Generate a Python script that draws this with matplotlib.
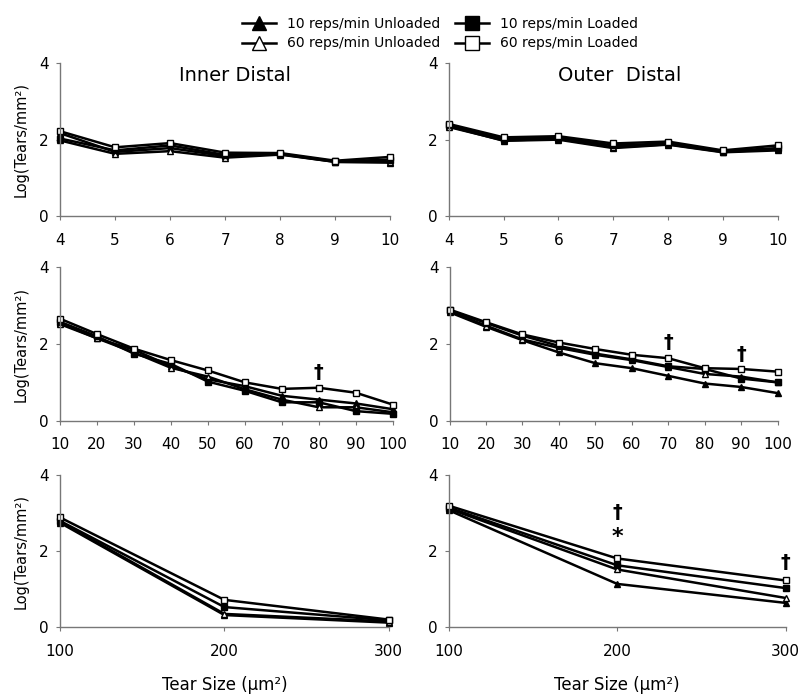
import matplotlib
matplotlib.use('Agg')
from matplotlib import pyplot as plt

plt.rcParams['font.family'] = ['DejaVu Sans']

series = ['10 reps/min Unloaded', '60 reps/min Unloaded', '10 reps/min Loaded', '60 reps/min Loaded']

# x values of the three rows
x_small = [4, 5, 6, 7, 8, 9, 10]
x_mid = [10, 20, 30, 40, 50, 60, 70, 80, 90, 100]
x_big = [100, 200, 300]

# Inner Distal (left column)
inner_small = {
    '10 reps/min Unloaded': [2.17, 1.68, 1.78, 1.57, 1.62, 1.42, 1.40],
    '60 reps/min Unloaded': [1.98, 1.63, 1.70, 1.53, 1.61, 1.42, 1.42],
    '10 reps/min Loaded':   [2.03, 1.72, 1.85, 1.60, 1.63, 1.43, 1.48],
    '60 reps/min Loaded':   [2.22, 1.80, 1.91, 1.66, 1.65, 1.45, 1.55],
}
inner_mid = {
    '10 reps/min Unloaded': [2.55, 2.15, 1.85, 1.42, 1.08, 0.90, 0.65, 0.55, 0.45, 0.30],
    '60 reps/min Unloaded': [2.52, 2.15, 1.78, 1.38, 1.15, 0.82, 0.55, 0.35, 0.35, 0.22],
    '10 reps/min Loaded':   [2.58, 2.20, 1.75, 1.48, 1.02, 0.78, 0.48, 0.48, 0.25, 0.18],
    '60 reps/min Loaded':   [2.66, 2.26, 1.88, 1.58, 1.31, 1.00, 0.83, 0.86, 0.73, 0.42],
}
inner_big = {
    '10 reps/min Unloaded': [2.75, 0.32, 0.12],
    '60 reps/min Unloaded': [2.78, 0.35, 0.15],
    '10 reps/min Loaded':   [2.80, 0.53, 0.18],
    '60 reps/min Loaded':   [2.89, 0.72, 0.20],
}

# Outer Distal (right column)
outer_small = {
    '10 reps/min Unloaded': [2.35, 1.97, 2.00, 1.78, 1.87, 1.67, 1.72],
    '60 reps/min Unloaded': [2.33, 1.98, 2.02, 1.80, 1.88, 1.68, 1.75],
    '10 reps/min Loaded':   [2.37, 2.02, 2.05, 1.85, 1.90, 1.70, 1.78],
    '60 reps/min Loaded':   [2.41, 2.06, 2.09, 1.90, 1.95, 1.72, 1.85],
}
outer_mid = {
    '10 reps/min Unloaded': [2.83, 2.45, 2.10, 1.78, 1.50, 1.37, 1.17, 0.97, 0.88, 0.72],
    '60 reps/min Unloaded': [2.85, 2.48, 2.12, 1.90, 1.72, 1.58, 1.40, 1.22, 1.15, 1.00],
    '10 reps/min Loaded':   [2.88, 2.55, 2.22, 1.95, 1.75, 1.60, 1.42, 1.35, 1.10, 1.00],
    '60 reps/min Loaded':   [2.90, 2.57, 2.25, 2.04, 1.87, 1.72, 1.63, 1.37, 1.35, 1.28],
}
outer_big = {
    '10 reps/min Unloaded': [3.08, 1.14, 0.64],
    '60 reps/min Unloaded': [3.12, 1.52, 0.77],
    '10 reps/min Loaded':   [3.15, 1.63, 1.03],
    '60 reps/min Loaded':   [3.20, 1.81, 1.23],
}

styles = {
    '10 reps/min Unloaded': dict(marker='^', mfc='black'),
    '60 reps/min Unloaded': dict(marker='^', mfc='white'),
    '10 reps/min Loaded':   dict(marker='s', mfc='black'),
    '60 reps/min Loaded':   dict(marker='s', mfc='white'),
}

fig = plt.figure(figsize=(8, 7), dpi=100)

# axes rects [left, bottom, width, height]
rects = [
    [0.075, 0.691, 0.413, 0.219], [0.561, 0.691, 0.411, 0.219],
    [0.075, 0.399, 0.416, 0.219], [0.562, 0.399, 0.410, 0.219],
    [0.075, 0.104, 0.411, 0.217], [0.561, 0.104, 0.421, 0.217],
]
panels = [
    (x_small, inner_small), (x_small, outer_small),
    (x_mid, inner_mid), (x_mid, outer_mid),
    (x_big, inner_big), (x_big, outer_big),
]

axes = []
for i, (r, (xs, data)) in enumerate(zip(rects, panels)):
    ax = fig.add_axes(r)
    for name in series:
        st = styles[name]
        ax.plot(xs, data[name], color='black', lw=1.8, marker=st['marker'],
                mfc=st['mfc'], mec='black', ms=5, mew=1.0, label=name, clip_on=False)
    ax.set_xlim(xs[0], xs[-1])
    ax.set_xticks(xs)
    ax.set_ylim(0, 4)
    ax.set_yticks([0, 2, 4])
    for s in ['top', 'right']:
        ax.spines[s].set_visible(False)
    for s in ['left', 'bottom']:
        ax.spines[s].set_color('#777777')
        ax.spines[s].set_linewidth(1.0)
    ax.tick_params(axis='both', colors='#777777', labelcolor='black', labelsize=11,
                   length=3, direction='out')
    ax.tick_params(axis='x', pad=9)
    ax.tick_params(axis='y', pad=5)
    if i % 2 == 0:
        ax.set_ylabel('Log(Tears/mm²)', fontsize=10.5, labelpad=8)
    if i >= 4:
        ax.set_xlabel('Tear Size (μm²)', fontsize=12, labelpad=12)
    axes.append(ax)

axes[0].text(0.53, 0.92, 'Inner Distal', transform=axes[0].transAxes,
             ha='center', va='center', fontsize=14)
axes[1].text(0.52, 0.92, 'Outer  Distal', transform=axes[1].transAxes,
             ha='center', va='center', fontsize=14)

# significance marks
axes[2].text(80, 1.27, '†', ha='center', va='center', fontsize=14, fontweight='bold')
axes[3].text(70, 2.04, '†', ha='center', va='center', fontsize=14, fontweight='bold')
axes[3].text(90, 1.74, '†', ha='center', va='center', fontsize=14, fontweight='bold')
axes[5].text(200, 3.03, '†', ha='center', va='center', fontsize=14, fontweight='bold')
axes[5].text(200, 2.38, '*', ha='center', va='center', fontsize=16, fontweight='bold')
axes[5].text(300, 1.70, '†', ha='center', va='center', fontsize=14, fontweight='bold')

handles, labels = axes[0].get_legend_handles_labels()
fig.legend(handles, labels, loc='center', bbox_to_anchor=(0.55, 0.952), ncol=2,
           frameon=False, fontsize=10, handlelength=2.5, columnspacing=1.0,
           labelspacing=0.4, handletextpad=0.8, markerscale=1.9)

fig.savefig('out.png', dpi=100)
